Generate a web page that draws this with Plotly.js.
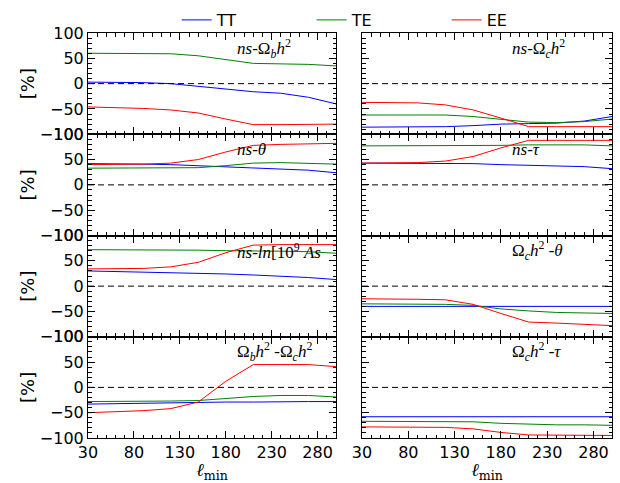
<!DOCTYPE html>
<html>
<head>
<meta charset="utf-8">
<script src="https://cdn.plot.ly/plotly-3.0.1.min.js"></script>
<style>html,body{margin:0;padding:0;background:#fff;}#chart{width:620px;height:483px;}</style>
</head>
<body>
<div id="chart"></div>
<script>
// ---- data ----
const ell = [30, 60, 90, 120, 150, 180, 210, 240, 270, 300];
const seriesNames = ['TT', 'TE', 'EE'];
const seriesColors = ['#0000ff', '#008000', '#ff0000'];

const panelLabels = [
  '<i>ns</i>-Ω<sub><i>b</i></sub><i>h</i><sup>2</sup>',
  '<i>ns</i>-Ω<sub><i>c</i></sub><i>h</i><sup>2</sup>',
  '<i>ns</i>-<i>θ</i>',
  '<i>ns</i>-<i>τ</i>',
  '<i>ns</i>-<i>ln</i>[10<sup>9</sup> <i>As</i>',
  'Ω<sub><i>c</i></sub><i>h</i><sup>2</sup> -<i>θ</i>',
  'Ω<sub><i>b</i></sub><i>h</i><sup>2</sup> -Ω<sub><i>c</i></sub><i>h</i><sup>2</sup>',
  'Ω<sub><i>c</i></sub><i>h</i><sup>2</sup> -<i>τ</i>'
];

// panel 1: ns - Omega_b h^2
const p1_TT = [3, 3, 2, 0, -5, -10, -16, -19, -27, -40];
const p1_TE = [60, 60, 60, 59, 55, 47, 40, 39, 38, 35];
const p1_EE = [-46, -47, -49, -52, -58, -70, -81, -81, -81, -80];
// panel 2: ns - Omega_c h^2
const p2_TT = [-86, -86, -86, -85, -83, -80, -79, -78, -74, -65];
const p2_TE = [-62, -62, -62, -62, -65, -71, -76, -77, -75, -70];
const p2_EE = [-37, -37, -38, -42, -52, -68, -85, -85, -85, -85];
// panel 3: ns - theta
const p3_TT = [42, 42, 41, 40, 38, 35, 34, 32, 29, 24];
const p3_TE = [33, 33, 33, 33, 34, 38, 43, 44, 43, 41];
const p3_EE = [40, 40, 41, 43, 50, 65, 78, 80, 81, 82];
// panel 4: ns - tau
const p4_TT = [43, 43, 43, 42, 42, 40, 39, 38, 36, 32];
const p4_TE = [77, 77, 77, 77, 77, 78, 79, 79, 79, 77];
const p4_EE = [43, 43, 44, 47, 56, 73, 88, 88, 88, 88];
// panel 5: ns - ln[10^9 As]
const p5_TT = [30, 29, 28, 27, 25, 24, 22, 20, 17, 13];
const p5_TE = [72, 72, 72, 71, 71, 70, 70, 69, 68, 65];
const p5_EE = [34, 34, 35, 38, 47, 66, 81, 82, 82, 82];
// panel 6: Omega_c h^2 - theta
const p6_TT = [-40, -40, -40, -40, -40, -40, -40, -40, -40, -40];
const p6_TE = [-35, -35, -36, -36, -38, -45, -49, -52, -53, -54];
const p6_EE = [-25, -25, -26, -27, -36, -54, -71, -73, -76, -78];
// panel 7: Omega_b h^2 - Omega_c h^2
const p7_TT = [-33, -32, -32, -31, -30, -29, -29, -28, -28, -28];
const p7_TE = [-28, -28, -27, -27, -26, -22, -18, -16, -16, -19];
const p7_EE = [-50, -48, -46, -42, -29, 12, 45, 45, 45, 41];
// panel 8: Omega_c h^2 - tau
const p8_TT = [-58, -58, -58, -58, -58, -58, -58, -58, -58, -58];
const p8_TE = [-67, -67, -67, -67, -68, -71, -73, -74, -74, -75];
const p8_EE = [-78, -78, -78, -79, -82, -89, -94, -94, -94, -95];

const panelData = [
  [p1_TT, p1_TE, p1_EE], [p2_TT, p2_TE, p2_EE],
  [p3_TT, p3_TE, p3_EE], [p4_TT, p4_TE, p4_EE],
  [p5_TT, p5_TE, p5_EE], [p6_TT, p6_TE, p6_EE],
  [p7_TT, p7_TE, p7_EE], [p8_TT, p8_TE, p8_EE]
];

const xRange = [30, 300];
const yRange = [-100, 100];
const yTicks = [-100, -50, 0, 50, 100];
const xTitle = '<i>ℓ</i><sub>min</sub>';
const yTitle = '[%]';

// ---- layout geometry ----
const W = 620, H = 483;
const colX = [[88, 336], [362, 612]];
const rowTop = 33, rowH = 101.25;

const traces = [];
const layout = {
  width: W, height: H,
  margin: {l: 0, r: 0, t: 0, b: 0},
  paper_bgcolor: '#fff', plot_bgcolor: '#fff',
  font: {family: 'DejaVu Sans', size: 16, color: '#000'},
  showlegend: true,
  legend: {
    orientation: 'h', x: 0.285, xanchor: 'left', y: 1 - 3 / H, yanchor: 'top',
    font: {family: 'DejaVu Sans', size: 16},
    itemwidth: 30, entrywidth: 90, entrywidthmode: 'pixels',
    bgcolor: 'rgba(0,0,0,0)', tracegroupgap: 0
  },
  annotations: [],
  shapes: []
};

panelData.forEach((series, i) => {
  const n = i + 1;
  const row = Math.floor(i / 2), col = i % 2;
  const xa = 'xaxis' + (n === 1 ? '' : n), ya = 'yaxis' + (n === 1 ? '' : n);
  const xr = 'x' + (n === 1 ? '' : n), yr = 'y' + (n === 1 ? '' : n);
  const top = rowTop + row * rowH, bot = top + rowH;
  const bottomRow = row === 3;
  layout[xa] = {
    domain: [colX[col][0] / W, colX[col][1] / W],
    anchor: yr, range: xRange, tick0: 30, dtick: 50,
    ticks: 'inside', ticklen: 7, tickwidth: 1, tickcolor: '#000',
    minor: {dtick: 10, tick0: 30, ticks: 'inside', ticklen: 3.5, tickcolor: '#000', showgrid: false},
    mirror: 'allticks', showline: true, linecolor: '#000', linewidth: 1,
    showgrid: false, zeroline: false,
    showticklabels: bottomRow,
    tickfont: {family: 'DejaVu Sans', size: 16},
    title: bottomRow ? {text: xTitle, font: {family: 'DejaVu Serif', size: 18}, standoff: 4} : {text: ''}
  };
  layout[ya] = {
    domain: [1 - bot / H, 1 - top / H],
    anchor: xr, range: yRange, tickvals: yTicks,
    ticks: 'inside', ticklen: 7, tickwidth: 1, tickcolor: '#000',
    minor: {dtick: 10, tick0: 0, ticks: 'inside', ticklen: 3.5, tickcolor: '#000', showgrid: false},
    mirror: 'allticks', showline: true, linecolor: '#000', linewidth: 1,
    showgrid: false, zeroline: false,
    showticklabels: col === 0,
    tickfont: {family: 'DejaVu Sans', size: 16},
    title: col === 0 ? {text: yTitle, font: {family: 'DejaVu Sans', size: 18}, standoff: 0} : {text: ''}
  };
  series.forEach((vals, k) => {
    traces.push({
      type: 'scatter', mode: 'lines', x: ell, y: vals,
      xaxis: xr, yaxis: yr,
      name: seriesNames[k], legendgroup: seriesNames[k], showlegend: i === 0,
      line: {color: seriesColors[k], width: 1},
      hoverinfo: 'skip'
    });
  });
  layout.shapes.push({
    type: 'line', xref: xr + ' domain', yref: yr, x0: 0, x1: 1, y0: 0, y1: 0,
    line: {color: '#000', width: 1, dash: '6px,4px'}, layer: 'above'
  });
  layout.annotations.push({
    xref: xr, yref: yr, x: 190, y: 70, xanchor: 'left', yanchor: 'middle',
    text: panelLabels[i], showarrow: false,
    font: {family: 'Liberation Serif', size: 17, color: '#000'}
  });
});

Plotly.newPlot('chart', traces, layout, {staticPlot: true, displayModeBar: false});
</script>
</body>
</html>
